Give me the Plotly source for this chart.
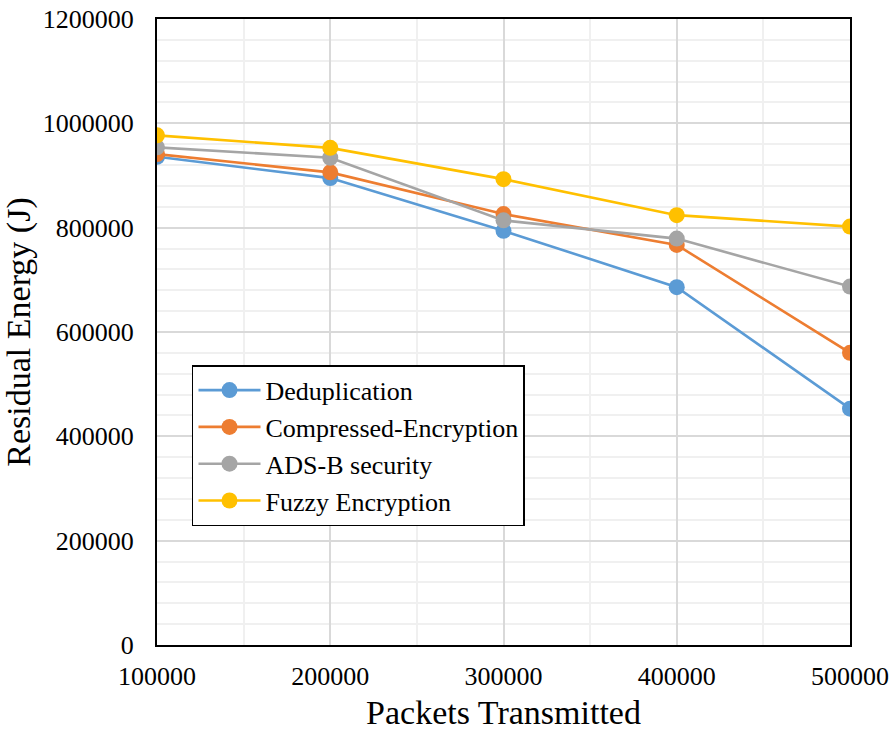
import plotly.graph_objects as go

packets = [100000, 200000, 300000, 400000, 500000]
series_names = ["Deduplication", "Compressed-Encryption", "ADS-B security", "Fuzzy Encryption"]
dedup = [936000, 895000, 794000, 686000, 453000]
compressed = [941000, 906000, 826000, 767000, 560000]
adsb = [954000, 934000, 814000, 779000, 687000]
fuzzy = [977000, 953000, 893000, 824000, 802000]
colors = ["#5b9bd5", "#ed7d31", "#a5a5a5", "#ffc000"]
y_ticks = [0, 200000, 400000, 600000, 800000, 1000000, 1200000]
x_ticks = packets

font_family = "Liberation Serif, Times New Roman, serif"

fig = go.Figure()
for i, (name, vals) in enumerate(zip(series_names, [dedup, compressed, adsb, fuzzy])):
    fig.add_trace(go.Scatter(
        x=packets, y=vals, name=name, mode="lines+markers",
        line=dict(color=colors[i], width=2.6),
        marker=dict(color=colors[i], size=16),
    ))

fig.update_layout(
    width=896, height=734,
    margin=dict(l=157, r=46, t=19, b=89, autoexpand=False),
    paper_bgcolor="white", plot_bgcolor="white",
    font=dict(family=font_family, size=26, color="black"),
    showlegend=True,
    legend=dict(
        x=0.0505, y=0.447, xanchor="left", yanchor="top",
        bordercolor="black", borderwidth=1.5, bgcolor="white",
        font=dict(family=font_family, size=26, color="black"),
        itemwidth=62, tracegroupgap=0,
    ),
)
fig.update_xaxes(
    range=[100000, 500000], tickvals=x_ticks, ticktext=[str(v) for v in x_ticks],
    showline=True, linecolor="black", linewidth=2, mirror=True,
    showgrid=True, gridcolor="#d9d9d9", gridwidth=1.5, automargin=False,
    ticks="", tickfont=dict(size=26), ticklabelstandoff=7,
    minor=dict(dtick=50000, tick0=0, showgrid=True, gridcolor="#f0f0f0", gridwidth=1.5, ticks=""),
    title=dict(text="Packets Transmitted", font=dict(size=34), standoff=10),
    zeroline=False,
)
fig.update_yaxes(
    range=[0, 1200000], tickvals=y_ticks, ticktext=[str(v) for v in y_ticks],
    showline=True, linecolor="black", linewidth=2, mirror=True,
    showgrid=True, gridcolor="#d9d9d9", gridwidth=1.5, automargin=False,
    ticks="", tickfont=dict(size=26), ticklabelstandoff=16,
    minor=dict(dtick=40000, tick0=0, showgrid=True, gridcolor="#f0f0f0", gridwidth=1.5, ticks=""),
    title=dict(text="Residual Energy (J)", font=dict(size=34), standoff=14),
    zeroline=False,
)
fig.write_html("out.html")
